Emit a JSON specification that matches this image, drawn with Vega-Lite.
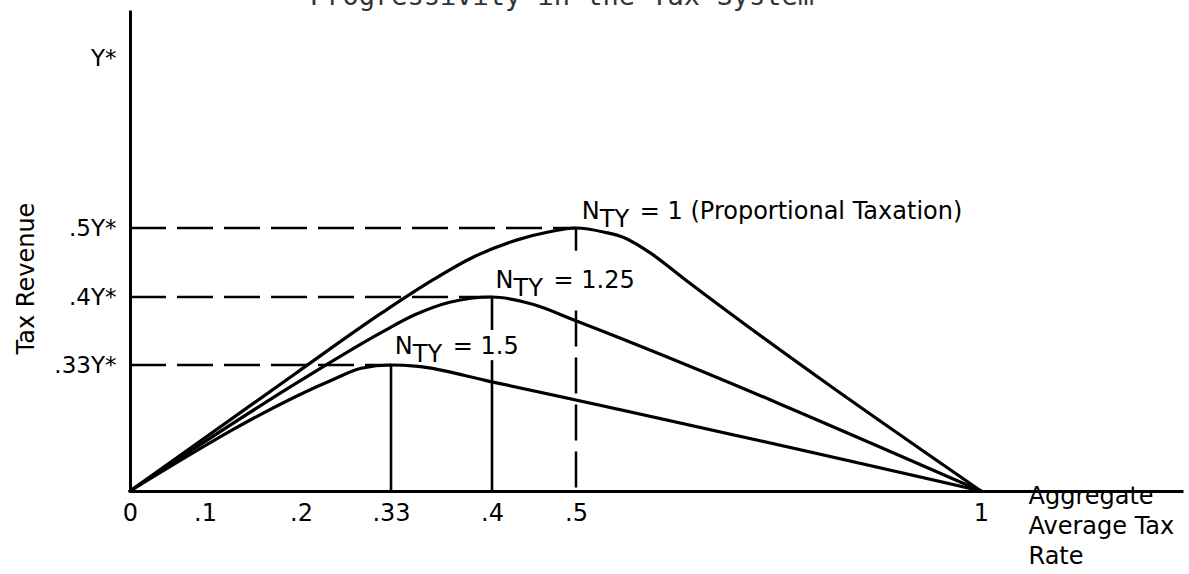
{
  "$schema": "https://vega.github.io/schema/vega-lite/v6.json",
  "autosize": {"type": "none"},
  "padding": {"left": 130, "top": 10, "right": 6, "bottom": 83},
  "width": 1053,
  "height": 481,
  "background": "white",
  "config": {"view": {"stroke": null}, "font": "DejaVu Sans"},
  "datasets": {
    "curves": [
      {"curve": "1", "order": 0, "rate": 0, "revenue": 0},
      {"curve": "1", "order": 1, "rate": 0.1947, "revenue": 0.3085},
      {"curve": "1", "order": 2, "rate": 0.3177, "revenue": 0.3841},
      {"curve": "1", "order": 3, "rate": 0.3593, "revenue": 0.4251},
      {"curve": "1", "order": 4, "rate": 0.3875, "revenue": 0.4583},
      {"curve": "1", "order": 5, "rate": 0.4301, "revenue": 0.4828},
      {"curve": "1", "order": 6, "rate": 0.4685, "revenue": 0.4946},
      {"curve": "1", "order": 7, "rate": 0.5, "revenue": 0.5},
      {"curve": "1", "order": 8, "rate": 0.5352, "revenue": 0.4939},
      {"curve": "1", "order": 9, "rate": 0.5596, "revenue": 0.4859},
      {"curve": "1", "order": 10, "rate": 0.5925, "revenue": 0.4632},
      {"curve": "1", "order": 11, "rate": 0.6325, "revenue": 0.4272},
      {"curve": "1", "order": 12, "rate": 1, "revenue": 0},
      {"curve": "1.25", "order": 0, "rate": 0, "revenue": 0},
      {"curve": "1.25", "order": 1, "rate": 0.1998, "revenue": 0.2897},
      {"curve": "1.25", "order": 2, "rate": 0.317, "revenue": 0.3639},
      {"curve": "1.25", "order": 3, "rate": 0.3469, "revenue": 0.3819},
      {"curve": "1.25", "order": 4, "rate": 0.3707, "revenue": 0.3946},
      {"curve": "1.25", "order": 5, "rate": 0.4, "revenue": 0.4},
      {"curve": "1.25", "order": 6, "rate": 0.4485, "revenue": 0.3925},
      {"curve": "1.25", "order": 7, "rate": 0.499, "revenue": 0.3758},
      {"curve": "1.25", "order": 8, "rate": 1, "revenue": 0},
      {"curve": "1.5", "order": 0, "rate": 0, "revenue": 0},
      {"curve": "1.5", "order": 1, "rate": 0.2474, "revenue": 0.2928},
      {"curve": "1.5", "order": 2, "rate": 0.2868, "revenue": 0.3216},
      {"curve": "1.5", "order": 3, "rate": 0.33, "revenue": 0.33},
      {"curve": "1.5", "order": 4, "rate": 0.3488, "revenue": 0.3263},
      {"curve": "1.5", "order": 5, "rate": 0.3991, "revenue": 0.2865},
      {"curve": "1.5", "order": 6, "rate": 1, "revenue": 0}
    ],
    "hdash": [
      {"rate": 0, "rate2": 0.5, "revenue": 0.5},
      {"rate": 0, "rate2": 0.4, "revenue": 0.4},
      {"rate": 0, "rate2": 0.33, "revenue": 0.33}
    ],
    "vsolid": [
      {"rate": 0.33, "revenue": 0, "revenue2": 0.33},
      {"rate": 0.4, "revenue": 0, "revenue2": 0.335},
      {"rate": 0.4, "revenue": 0.366, "revenue2": 0.4}
    ],
    "vdash": [
      {"rate": 0.5, "revenue": 0.386, "revenue2": 0},
      {"rate": 0.5, "revenue": 0.5, "revenue2": 0.467}
    ],
    "labels": [
      {"rate": 0.5072, "revenue": 0.5262, "main": "= 1 (Proportional Taxation)"},
      {"rate": 0.4043, "revenue": 0.4136, "main": "= 1.25"},
      {"rate": 0.3326, "revenue": 0.3412, "main": "= 1.5"}
    ],
    "heading": [
      {"rate": 0.213, "revenue": 1.1215, "text": "Progressivity in the Tax System"}
    ]
  },
  "encoding": {
    "x": {
      "field": "rate",
      "type": "quantitative",
      "scale": {
        "domain": [0, 0.1, 0.2, 0.33, 0.4, 0.5, 1, 1.25],
        "range": [0, 75, 171, 261, 362, 446, 851, 1053],
        "zero": false,
        "nice": false
      },
      "axis": {
        "values": [0, 0.1, 0.2, 0.33, 0.4, 0.5, 1],
        "labelExpr": "datum.value == 0 || datum.value == 1 ? format(datum.value, 'd') : substring(format(datum.value, '.2~f'), 1)",
        "grid": false,
        "ticks": false,
        "domainColor": "black",
        "domainWidth": 3,
        "labelColor": "black",
        "labelFont": "DejaVu Sans",
        "labelFontSize": 24,
        "labelPadding": 10,
        "labelFlush": false,
        "labelOverlap": false,
        "labelBound": false,
        "title": ["Aggregate", "Average Tax", "Rate"],
        "titleFont": "DejaVu Sans",
        "titleFontSize": 24,
        "titleFontWeight": "normal",
        "titleColor": "black",
        "titleAlign": "left",
        "titleBaseline": "alphabetic",
        "titleLineHeight": 30,
        "titleX": 898,
        "titleY": 12
      }
    },
    "y": {
      "field": "revenue",
      "type": "quantitative",
      "scale": {
        "domain": [0, 0.33, 0.4, 0.5, 1, 1.11],
        "range": [481, 355, 287, 218, 48, 0],
        "zero": false,
        "nice": false
      },
      "axis": {
        "values": [0.33, 0.4, 0.5, 1],
        "labelExpr": "datum.value == 1 ? 'Y*' : substring(format(datum.value, '.2~f'), 1) + 'Y*'",
        "grid": false,
        "ticks": false,
        "domainColor": "black",
        "domainWidth": 3,
        "labelColor": "black",
        "labelFont": "DejaVu Sans",
        "labelFontSize": 23,
        "labelPadding": 14,
        "labelFlush": false,
        "labelOverlap": false,
        "labelBound": false,
        "title": "Tax Revenue",
        "titleFont": "DejaVu Sans",
        "titleFontSize": 24,
        "titleFontWeight": "normal",
        "titleColor": "black",
        "titleAngle": -90,
        "titleAlign": "center",
        "titleBaseline": "alphabetic",
        "titleX": -97,
        "titleY": 268
      }
    }
  },
  "layer": [
    {
      "data": {"name": "hdash"},
      "mark": {"type": "rule", "color": "black", "strokeWidth": 2.5, "strokeDash": [36, 11]},
      "encoding": {"x2": {"field": "rate2"}}
    },
    {
      "data": {"name": "vsolid"},
      "mark": {"type": "rule", "color": "black", "strokeWidth": 2.6},
      "encoding": {"y2": {"field": "revenue2"}}
    },
    {
      "data": {"name": "vdash"},
      "mark": {"type": "rule", "color": "black", "strokeWidth": 2.5, "strokeDash": [36, 11]},
      "encoding": {"y2": {"field": "revenue2"}}
    },
    {
      "data": {"name": "curves"},
      "mark": {"type": "line", "color": "black", "strokeWidth": 3.2, "interpolate": "monotone", "strokeCap": "round", "strokeJoin": "round"},
      "encoding": {
        "detail": {"field": "curve"},
        "order": {"field": "order", "type": "quantitative"}
      }
    },
    {
      "data": {"name": "labels"},
      "mark": {"type": "text", "text": "N", "font": "DejaVu Sans", "fontSize": 24, "color": "black", "align": "left", "baseline": "alphabetic"},
      "encoding": {}
    },
    {
      "data": {"name": "labels"},
      "mark": {"type": "text", "text": "TY", "font": "DejaVu Sans", "fontSize": 24, "color": "black", "align": "left", "baseline": "alphabetic", "dx": 18, "dy": 8},
      "encoding": {}
    },
    {
      "data": {"name": "labels"},
      "mark": {"type": "text", "font": "DejaVu Sans", "fontSize": 24, "color": "black", "align": "left", "baseline": "alphabetic", "dx": 58},
      "encoding": {"text": {"field": "main"}}
    },
    {
      "data": {"name": "heading"},
      "mark": {"type": "text", "font": "DejaVu Sans Mono", "fontSize": 27, "color": "#333333", "align": "left", "baseline": "alphabetic", "clip": false},
      "encoding": {"text": {"field": "text"}}
    }
  ]
}
